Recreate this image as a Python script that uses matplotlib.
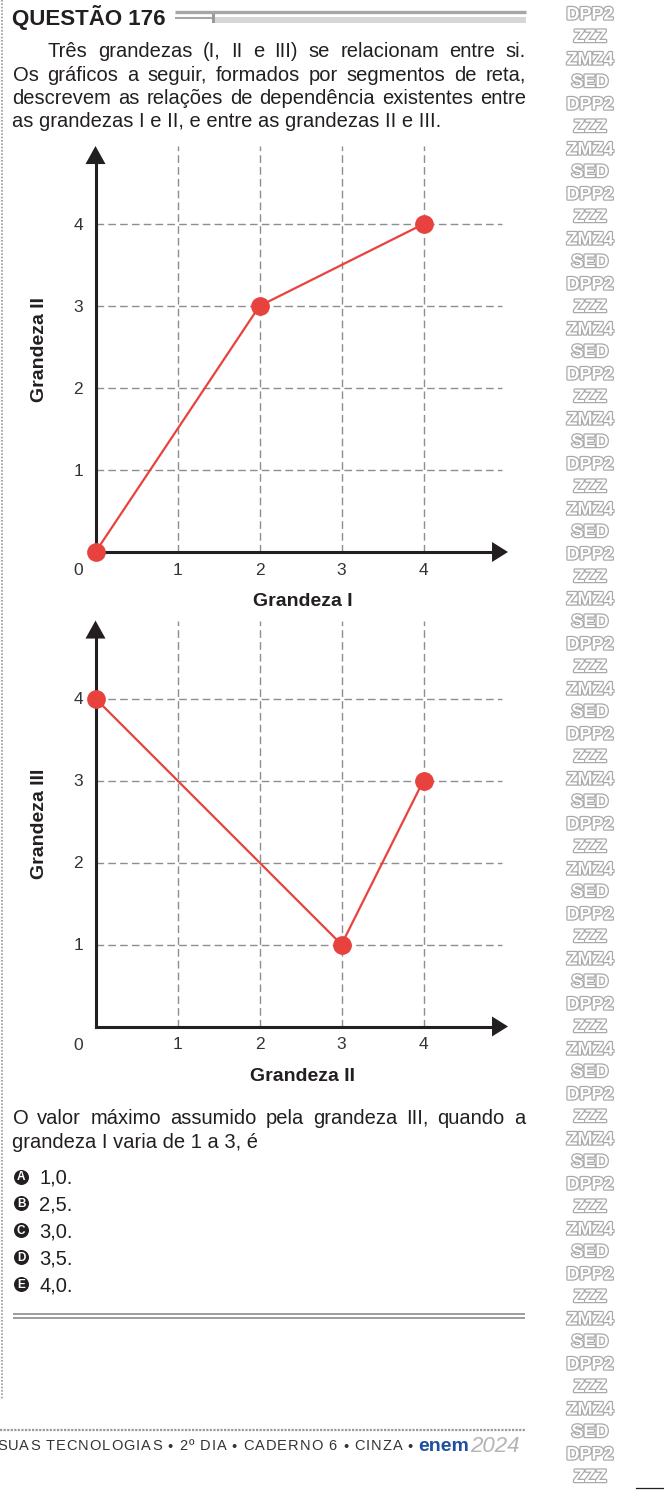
import matplotlib
matplotlib.use('Agg')
import matplotlib.pyplot as plt
import matplotlib.patheffects as pe

plt.rcParams['font.family'] = ['Liberation Sans', 'DejaVu Sans']

# dados dos dois graficos
grandeza_I = [0, 2, 4]
grandeza_II_1 = [0, 3, 4]      # grafico 1: II em funcao de I
grandeza_II_2 = [0, 3, 4]      # grafico 2: III em funcao de II
grandeza_III = [4, 1, 3]
ticks = [1, 2, 3, 4]

titulo = 'QUESTÃO 176'
intro = ['Três grandezas (I, II e III) se relacionam entre si.',
         'Os gráficos a seguir, formados por segmentos de reta,',
         'descrevem as relações de dependência existentes entre',
         'as grandezas I e II, e entre as grandezas II e III.']
pergunta = ['O valor máximo assumido pela grandeza III, quando a',
            'grandeza I varia de 1 a 3, é']
letras = ['A', 'B', 'C', 'D', 'E']
valores = ['1,0.', '2,5.', '3,0.', '3,5.', '4,0.']
rodape = 'SUAS TECNOLOGIAS • 2º DIA • CADERNO 6 • CINZA •'

W, H = 664, 1501
TXT = '#231f20'
RED = '#e8423f'
GRID = '#8e8e8e'

fig = plt.figure(figsize=(W / 100, H / 100), dpi=100)
page = fig.add_axes([0, 0, 1, 1])
page.set_xlim(0, W)
page.set_ylim(H, 0)
page.axis('off')
renderer = fig.canvas.get_renderer()


def width_of(s, size):
    t = page.text(0, 0, s + '|', fontsize=size)
    r = page.text(0, 0, '|', fontsize=size)
    w = t.get_window_extent(renderer).width - r.get_window_extent(renderer).width
    t.remove()
    r.remove()
    return w


def justify(line, x0, x1, y, size, full=True, color=TXT):
    if not full:
        page.text(x0, y, line, fontsize=size, color=color, va='baseline')
        return
    words = line.split(' ')
    txts = [page.text(x0, y, w, fontsize=size, color=color, va='baseline')
            for w in words]
    widths = [t.get_window_extent(renderer).width for t in txts]
    gap = (x1 - x0 - sum(widths)) / (len(words) - 1)
    x = x0
    for t, w in zip(txts, widths):
        t.set_x(x)
        x += w + gap


def tracked(line, x0, x1, y, size, color):
    # espacamento entre letras para ocupar de x0 a x1
    total = width_of(line, size)
    track = (x1 - x0 - total) / (len(line) - 1)
    for i, ch in enumerate(line):
        if ch == ' ':
            continue
        x = x0 + width_of(line[:i], size) + track * i
        page.text(x, y, ch, fontsize=size, color=color, va='baseline')


# cabecalho
page.text(12, 25, titulo, fontsize=16, fontweight='bold', color=TXT, va='baseline')
page.plot([175, 526], [12.3, 12.3], color='#a6a6a6', lw=2.4, solid_capstyle='butt')
page.plot([175, 212], [18.3, 18.3], color='#a6a6a6', lw=1.5, solid_capstyle='butt')
page.fill_between([214, 526], 17.3, 23.3, color='#d6d6d6', lw=0)
page.fill_between([211.5, 214.5], 14, 23.3, color='#9a9a9a', lw=0)

base_intro = [57, 81, 104, 127]
justify(intro[0], 48, 526, base_intro[0], 14.5)
justify(intro[1], 12.5, 526, base_intro[1], 14.5)
justify(intro[2], 12.5, 526, base_intro[2], 14.5)
justify(intro[3], 12.5, 526, base_intro[3], 14.5, full=False)

# graficos
UNIT = 82.0
X0 = 95.5
XTIP = 508


def chart(axis_y, xs, ys, xlab, ylab):
    ax = fig.add_axes([X0 / W, (H - axis_y) / H, (XTIP - X0) / W, 406 / H])
    ax.patch.set_alpha(0)
    xmax = (XTIP - X0) / UNIT
    ymax = 406 / UNIT
    ax.set_xlim(0, xmax)
    ax.set_ylim(0, ymax)
    for s in ax.spines.values():
        s.set_visible(False)
    gx = (502 - X0) / UNIT
    for t in ticks:
        ax.plot([t, t], [0, ymax], color=GRID, lw=1, dashes=(5.5, 3), zorder=1)
        ax.plot([0, gx], [t, t], color=GRID, lw=1, dashes=(5.5, 3), zorder=1)
    # eixos com setas
    ax.plot([0, xmax - 15 / UNIT], [0, 0], color=TXT, lw=2.2,
            solid_capstyle='projecting', clip_on=False, zorder=3)
    ax.plot([0, 0], [0, ymax - 17 / UNIT], color=TXT, lw=2.2,
            solid_capstyle='projecting', clip_on=False, zorder=3)
    ax.annotate('', xy=(xmax, 0), xytext=(0, 0), annotation_clip=False,
                arrowprops=dict(arrowstyle='-|>,head_length=1.15,head_width=0.72',
                                mutation_scale=10, lw=0, color=TXT,
                                shrinkA=0, shrinkB=0))
    ax.annotate('', xy=(0, ymax), xytext=(0, 0), annotation_clip=False,
                arrowprops=dict(arrowstyle='-|>,head_length=1.3,head_width=0.72',
                                mutation_scale=10, lw=0, color=TXT,
                                shrinkA=0, shrinkB=0))
    ax.plot(xs, ys, color=RED, lw=1.6, marker='o', ms=13.5, mew=0,
            clip_on=False, zorder=5)
    ax.set_xticks(ticks)
    ax.set_yticks(ticks)
    ax.tick_params(length=0, labelsize=12.5, labelcolor='#333333')
    ax.tick_params(axis='x', pad=13.3)
    ax.tick_params(axis='y', pad=12.6)
    for lb in ax.get_xticklabels():
        lb.set_va('center')
    for lb in ax.get_yticklabels():
        lb.set_ha('center')
    ax.annotate('0', xy=(0, 0), xytext=(-17.5, -18.5), textcoords='offset pixels',
                ha='center', va='center', fontsize=12.5, color='#333333')
    ax.set_xlabel(xlab, fontsize=14, fontweight='bold', color=TXT)
    ax.xaxis.set_label_coords((303 - X0) / (XTIP - X0), -50 / 406)
    ax.xaxis.label.set_va('center')
    ax.set_ylabel(ylab, fontsize=14, fontweight='bold', color=TXT)
    ax.yaxis.set_label_coords((39 - X0) / (XTIP - X0), 0.5)
    ax.yaxis.label.set_va('center')
    return ax


chart(552, grandeza_I, grandeza_II_1, 'Grandeza I', 'Grandeza II')
chart(1026.5, grandeza_II_2, grandeza_III, 'Grandeza II', 'Grandeza III')

# pergunta e alternativas
justify(pergunta[0], 12.5, 525, 1124, 14.5)
justify(pergunta[1], 12.5, 525, 1148.5, 14.5, full=False)
for i, (l, v) in enumerate(zip(letras, valores)):
    yc = 1176.5 + 26.9 * i
    page.plot(21, yc, marker='o', ms=10.8, color=TXT, mew=0)
    page.text(21, yc + 0.6, l, fontsize=8.5, fontweight='bold', color='white',
              ha='center', va='center')
    page.text(39.5, yc + 7.2, v, fontsize=14.5, color=TXT, va='baseline')

page.plot([12.5, 525], [1314, 1314], color='#9c9c9c', lw=1.4, solid_capstyle='butt')
page.plot([12.5, 525], [1318, 1318], color='#9c9c9c', lw=1.4, solid_capstyle='butt')

# borda pontilhada esquerda
page.plot([1.5, 1.5], [0, 1400], color='#9a9a9a', lw=1.2, ls=(0, (1, 1)))

# rodape
page.plot([0, 525], [1429.5, 1429.5], color='#9a9a9a', lw=1.6, ls=(0, (1, 0.6)))
tracked(rodape, -3, 413, 1450.5, 10.5, '#333333')
page.text(418, 1451, 'enem', fontsize=14, fontweight='bold', color='#1f4f9f',
          va='baseline')
page.text(470, 1451.5, '2024', fontsize=16, style='italic', color='#b4b4b4',
          va='baseline')
page.plot([636, 664], [1488, 1488], color=TXT, lw=0.9)

# faixa decorativa da direita
motivo = ['DPP2', 'ZZZ', 'ZMZ4', 'SED']
for k in range(17):
    y0 = 15 + 90 * k
    for j, m in enumerate(motivo):
        yy = y0 + 22.5 * j
        if yy > H - 12:
            continue
        page.text(590, yy, m, fontsize=13, color='white',
                  ha='center', va='center', fontweight='bold',
                  path_effects=[pe.withStroke(linewidth=1.8, foreground='#a9a9a9')])

fig.savefig('out.png', dpi=100)
